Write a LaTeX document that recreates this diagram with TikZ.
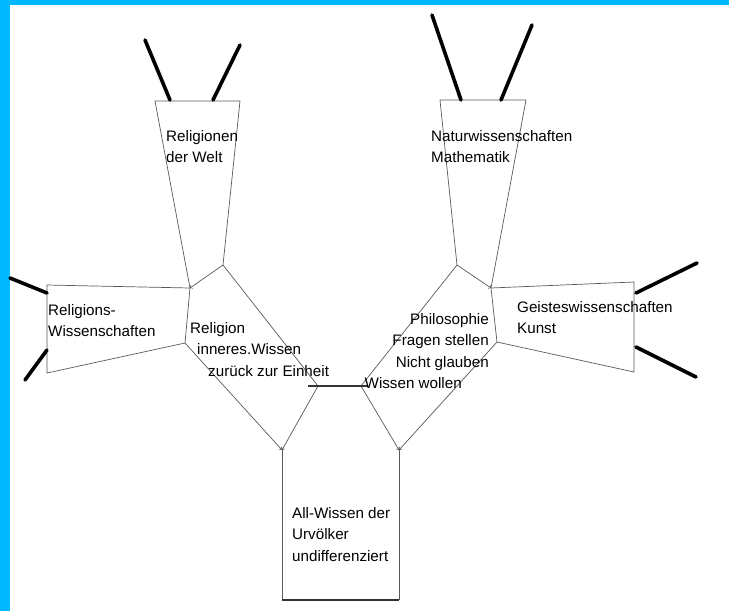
\documentclass[tikz,border=0pt]{standalone}
\usepackage{fontspec}
\setmainfont{Liberation Sans}
\usepackage{tikz}
\usetikzlibrary{arrows}
\usetikzlibrary{positioning}
\tikzset{edge/.style = {draw=black!65, line width = 0.7pt}}
\tikzset{tipped/.style = {edge, -to}}
\tikzset{stem/.style = {line width = 3.6pt, line cap = round}}
\tikzset{lbl/.style = {inner sep = 0, align = left, anchor = base west,
    font = \fontsize{15.2}{21.5}\selectfont}}
\definecolor{mcyan}{rgb}{0, 0.72, 1}

\begin{document}
\begin{tikzpicture}[x = 1pt, y = -1pt]
    \useasboundingbox (0, 0) rectangle (729, 611);
    \fill [mcyan] (0, 0) rectangle (10, 611);
    \fill [mcyan] (0, 0) rectangle (729, 5);

    % vertices
    \coordinate (a1) at (155, 101);
    \coordinate (a2) at (240, 101);
    \coordinate (a3) at (223, 265);
    \coordinate (a4) at (190, 288);
    \coordinate (b1) at (318, 386);
    \coordinate (b2) at (282, 450);
    \coordinate (b3) at (185, 343);
    \coordinate (c1) at (47, 285);
    \coordinate (c2) at (47, 373);
    \coordinate (d1) at (440, 100);
    \coordinate (d2) at (526, 100);
    \coordinate (d3) at (491, 288);
    \coordinate (d4) at (457, 265);
    \coordinate (e1) at (497, 342);
    \coordinate (e2) at (399, 450);
    \coordinate (e3) at (361, 386);
    \coordinate (f1) at (634, 282);
    \coordinate (f2) at (634, 372);
    \coordinate (g1) at (282, 600);
    \coordinate (g2) at (399, 600);

    % upper shapes
    \draw [edge] (a4) -- (a1) -- (a2) -- (a3);
    \draw [edge] (d4) -- (d1) -- (d2) -- (d3);
    \draw [edge] (a4) -- (c1) -- (c2) -- (b3);
    \draw [edge] (d3) -- (f1) -- (f2) -- (e1);

    % diamonds
    \draw [tipped] (a3) -- (a4);
    \draw [edge] (a4) -- (b3);
    \draw [edge] (a3) -- (b1);
    \draw [tipped] (b1) -- (b2);
    \draw [tipped] (b3) -- (b2);
    \draw [tipped] (d4) -- (d3);
    \draw [edge] (d3) -- (e1);
    \draw [edge] (d4) -- (e3);
    \draw [tipped] (e1) -- (e2);
    \draw [tipped] (e3) -- (e2);
    \draw [line width = 1.6pt, black!80, shorten <= -10pt, shorten >= -7pt] (b1) -- (e3);

    % trunk
    \draw [edge] (b2) -- (g1);
    \draw [edge] (e2) -- (g2);
    \draw [line width = 1.8pt, black!80] (g1) -- (g2);

    % stems
    \coordinate (s1) at (145, 40);
    \coordinate (s2) at (240, 45);
    \coordinate (s3) at (432, 15);
    \coordinate (s4) at (532, 25);
    \coordinate (s5) at (10, 278);
    \coordinate (s6) at (25, 380);
    \coordinate (s7) at (697, 263);
    \coordinate (s8) at (696, 377);
    \coordinate (t1) at (170, 100);
    \coordinate (t2) at (213, 100);
    \coordinate (t3) at (461, 100);
    \coordinate (t4) at (501, 100);
    \coordinate (t5) at (47, 293);
    \coordinate (t6) at (47, 350);
    \coordinate (t7) at (636, 293);
    \coordinate (t8) at (636, 347);
    \foreach \i in {1, ..., 8}
      \draw [stem] (s\i) -- (t\i);

    % labels (anchored at the baseline of the last line)
    \node [lbl] (welt) at (166, 162.5) {Religionen\\der Welt};
    \node [lbl] (relwiss) at (48, 336.5) {Religions-\\Wissenschaften};
    \node [lbl] (religion) at (190, 376)
      {Religion\\\hspace*{7pt}inneres.Wissen\\\hspace*{18pt}zurück zur Einheit};
    \node [lbl] (natur) at (431, 162.5) {Naturwissenschaften\\Mathematik};
    \node [lbl] (geist) at (517, 333.5) {Geisteswissenschaften\\Kunst};
    \node [lbl, align = right, anchor = base east] (philo) at (489, 388.5)
      {Philosophie\\Fragen stellen\hspace*{3pt}\\Nicht glauben\hspace*{13pt}\\Wissen wollen\hspace*{27pt}};
    \node [lbl] (allwissen) at (292, 561) {All-Wissen der\\Urvölker\\undifferenziert};
  \end{tikzpicture}
\end{document}
